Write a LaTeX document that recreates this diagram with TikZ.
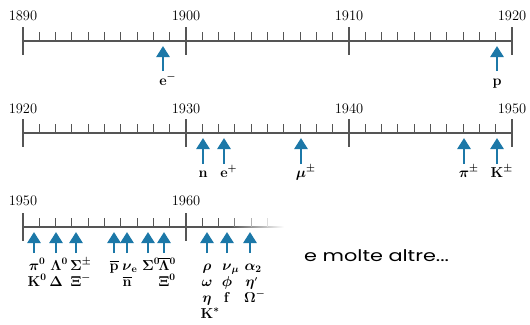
\documentclass[tikz,border=0pt]{standalone}
\usepackage{amsmath,amssymb}
\usepackage{fontspec}
\newfontfamily\remarkfont{Poppins}
\usetikzlibrary{arrows.meta}
\definecolor{axisgray}{RGB}{85,85,85}
\definecolor{arrowblue}{RGB}{28,120,168}
\tikzset{
  axisline/.style={axisgray, line width=1.1pt},
  bigtick/.style={axisgray, line width=1.4pt},
  smalltick/.style={axisgray, line width=0.9pt},
  yearlabel/.style={font=\fontsize{14.5}{14.5}\selectfont, anchor=base, inner sep=0pt},
  particle/.style={-{Triangle[width=13pt,length=11pt]}, arrowblue, line width=2.6pt},
  plabel/.style={font=\fontsize{14.5}{14.5}\selectfont\boldmath, anchor=base, inner sep=0pt},
}
\newcommand\parrow[4]{% name, x, axis y, tail offset
  \coordinate (#1tip) at (#2,#3+5);
  \coordinate (#1tail) at (#2,#3+#4);
  \draw[particle] (#1tail) -- (#1tip);}
\begin{document}
\begin{tikzpicture}[x=1pt,y=-1pt]
\useasboundingbox (0,0) rectangle (530,324);
% ---------- row 1
\draw[axisline] (23,41) -- (512,41);
\foreach \k in {1,...,29} \draw[smalltick] (23+16.3*\k,41) -- ++(0,-9);
\foreach \k/\yr in {0/1890,1/1900,2/1910,3/1920}{
  \draw[bigtick] (23+163*\k,27) -- (23+163*\k,55);
  \node[yearlabel] (y\yr) at (23+163*\k,20) {\yr};}
\parrow{em}{163}{41}{30}
\parrow{p}{497}{41}{30}
\node[plabel] (lem) at (163,85) {$\mathbf{e}\rlap{$^{-}$}$};
\node[plabel] (lp) at (497,85) {$\mathbf{p}$};
% ---------- row 2
\draw[axisline] (23,133) -- (512,133);
\foreach \k in {1,...,29} \draw[smalltick] (23+16.3*\k,133) -- ++(0,-9);
\foreach \k/\yr in {0/1920,1/1930,2/1940,3/1950}{
  \draw[bigtick] (23+163*\k,119) -- (23+163*\k,147);
  \node[yearlabel] (r\yr) at (23+163*\k,113) {\yr};}
\parrow{n}{203}{133}{31}
\parrow{ep}{224}{133}{31}
\parrow{mu}{301}{133}{31}
\parrow{pi}{464}{133}{31}
\parrow{K}{497}{133}{31}
\node[plabel] (ln) at (203,177) {$\mathbf{n}$};
\node[plabel] (lep) at (224,177) {$\mathbf{e}\rlap{$^{+}$}$};
\node[plabel] (lmu) at (301,177) {$\mu\rlap{$^{\pm}$}$};
\node[plabel] (lpi) at (464,177) {$\pi\rlap{$^{\pm}$}$};
\node[plabel] (lK) at (497,177) {$\mathbf{K}\rlap{$^{\pm}$}$};
% ---------- row 3
\draw[axisline] (23,227) -- (232,227);
\shade[left color=axisgray, right color=white] (231,226.45) rectangle (284,227.55);
\foreach \k in {1,...,9} \draw[smalltick] (23+16.3*\k,227) -- ++(0,-9);
\draw[smalltick] (202.3,227) -- ++(0,-9);
\draw[smalltick] (218.6,227) -- ++(0,-9);
\draw[smalltick, axisgray!75] (234.9,227) -- ++(0,-9);
\draw[smalltick, axisgray!45] (251.2,227) -- ++(0,-9);
\draw[smalltick, axisgray!20] (267.5,227) -- ++(0,-9);
\foreach \k/\yr in {0/1950,1/1960}{
  \draw[bigtick] (23+163*\k,213) -- (23+163*\k,241);
  \node[yearlabel] (s\yr) at (23+163*\k,205) {\yr};}
\parrow{a}{34}{227}{26}
\parrow{b}{56}{227}{26}
\parrow{c}{76}{227}{26}
\parrow{d}{114}{227}{26}
\parrow{e}{127}{227}{26}
\parrow{f}{148}{227}{26}
\parrow{g}{164}{227}{26}
\parrow{h}{207}{227}{26}
\parrow{i}{227}{227}{26}
\parrow{j}{250}{227}{26}
\node[plabel] (la1) at (34,270) {$\pi\rlap{$^{0}$}$};
\node[plabel] (la2) at (34,286) {$\mathbf{K}\rlap{$^{0}$}$};
\node[plabel] (lb1) at (56,270) {$\Lambda\rlap{$^{0}$}$};
\node[plabel] (lb2) at (56,286) {$\Delta$};
\node[plabel] (lc1) at (76,270) {$\Sigma\rlap{$^{\pm}$}$};
\node[plabel] (lc2) at (76,286) {$\Xi\rlap{$^{-}$}$};
\node[plabel] (ld1) at (114,270) {$\overline{\mathbf{p}}$};
\node[plabel] (le1) at (127,270) {$\nu\rlap{$_{\mathbf{e}}$}$};
\node[plabel] (le2) at (127,286) {$\overline{\mathbf{n}}$};
\node[plabel] (lf1) at (148,270) {$\Sigma\rlap{$^{0}$}$};
\node[plabel] (lg1) at (164,270) {$\overline{\Lambda}\rlap{$^{0}$}$};
\node[plabel] (lg2) at (164,286) {$\Xi\rlap{$^{0}$}$};
\node[plabel] (lh1) at (207,270) {$\rho$};
\node[plabel] (lh2) at (207,286) {$\omega$};
\node[plabel] (lh3) at (207,302) {$\eta$};
\node[plabel] (lh4) at (207,318) {$\mathbf{K}\rlap{$^{*}$}$};
\node[plabel] (li1) at (227,270) {$\nu\rlap{$_{\mu}$}$};
\node[plabel] (li2) at (227,286) {$\phi$};
\node[plabel] (li3) at (227,302) {$\mathbf{f}$};
\node[plabel] (lj1) at (250,270) {$\alpha\rlap{$_{2}$}$};
\node[plabel] (lj2) at (250,286.5) {$\eta\rlap{$^{\scriptscriptstyle\prime}$}$};
\node[plabel] (lj3) at (250,302) {$\Omega\rlap{$^{-}$}$};
% ---------- remark
\node[anchor=west, inner sep=0pt, font=\remarkfont\fontsize{16}{16}\selectfont] (more) at (304,256) {\scalebox{1.3}[1]{e molte altre...}};
\end{tikzpicture}
\end{document}
